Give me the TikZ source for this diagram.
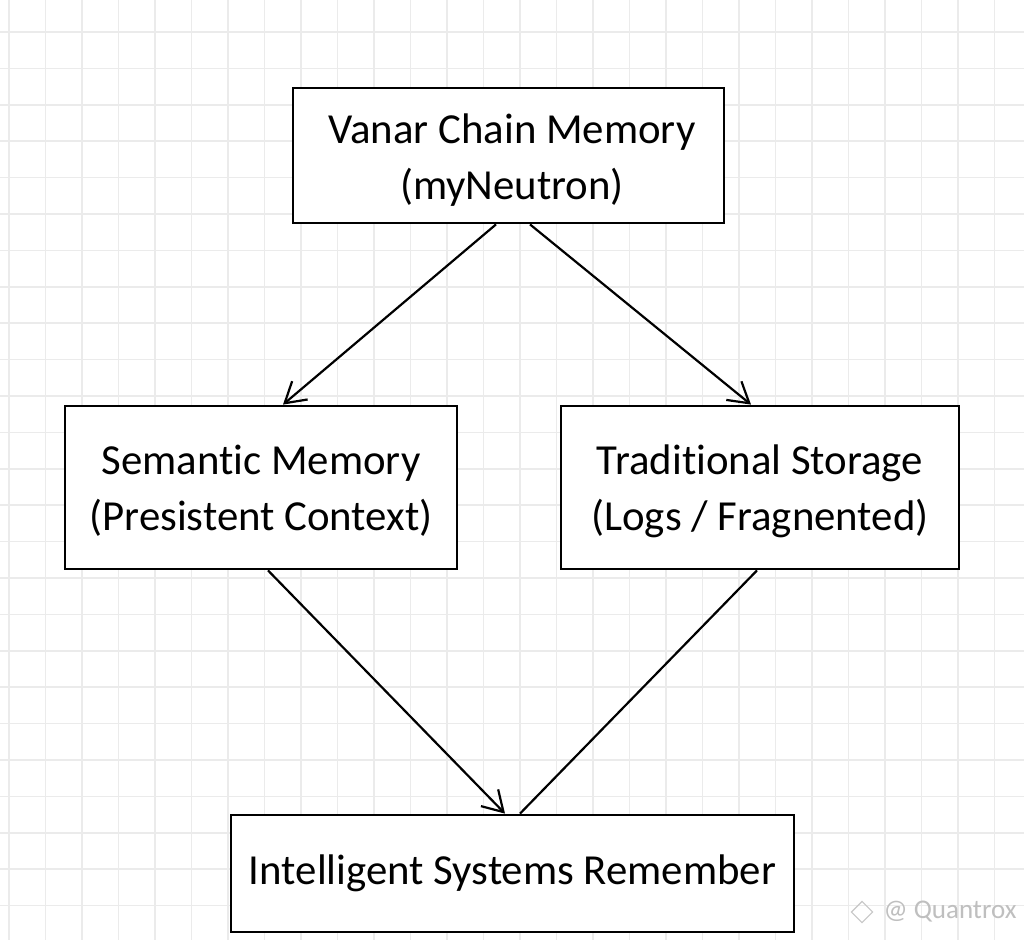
\documentclass[tikz,border=0pt]{standalone}
\usepackage{fontspec}
\setmainfont[Ligatures=NoCommon,RawFeature={-liga;-clig}]{Carlito}
\usetikzlibrary{arrows.meta}
\begin{document}
\begin{tikzpicture}[x=1pt,y=1pt,
  box/.style={draw=black,line width=2.8pt,fill=white,rectangle,align=center,
    inner sep=0pt,font=\fontsize{42.8}{56}\selectfont},
  txt/.style={font=\fontsize{42.8}{56}\selectfont,align=center,inner sep=0pt},
  conn/.style={line width=2.2pt,draw=black},
  arr/.style={conn,-{Straight Barb[length=20pt,width=24pt]}},
  gridline/.style={draw=black!8,line width=1.6pt}]
\useasboundingbox (0,-940) rectangle (1024,0);
\fill[white] (0,-940) rectangle (1024,0);
\foreach \i in {0,...,28} {
  \draw[gridline] ({9+36.5*\i},-940) -- ({9+36.5*\i},0);
}
\foreach \j in {0,...,26} {
  \draw[gridline] (0,{-32-36.4*(\j-1)}) -- (1024,{-32-36.4*(\j-1)});
}
\node[box,minimum width=431pt,minimum height=135pt] (top) at (508.5,-155.5) {};
\node[txt] (toptext) at (512,-160) {Vanar Chain Memory\\(myNeutron)};
\node[box,minimum width=392pt,minimum height=163pt] (left) at (261,-487.5) {};
\node[txt] (lefttext) at (261,-491) {Semantic Memory\\(Presistent Context)};
\node[box,minimum width=398pt,minimum height=163pt] (right) at (760,-487.5) {};
\node[txt] (righttext) at (760,-491) {Traditional Storage\\(Logs / Fragnented)};
\node[box,minimum width=563pt,minimum height=117pt] (bot) at (512.5,-873.5) {Intelligent Systems Remember};
\draw[arr] ([xshift=-12.5pt]top.south) -- ([xshift=22pt]left.north);
\draw[arr] ([xshift=21.5pt]top.south) -- ([xshift=-9pt]right.north);
\draw[arr] ([xshift=7pt]left.south) -- ([xshift=-7.5pt]bot.north);
\draw[conn] ([xshift=-3pt]right.south) -- ([xshift=7.5pt]bot.north);
\node[text=black!25,font=\fontsize{27}{30}\selectfont,anchor=west] (wm) at (880,-912) {@ Quantrox};
\node[draw=black!22,line width=1.2pt,rotate=45,minimum size=15pt,inner sep=0pt] (logo) at (862,-912) {};
\end{tikzpicture}
\end{document}
